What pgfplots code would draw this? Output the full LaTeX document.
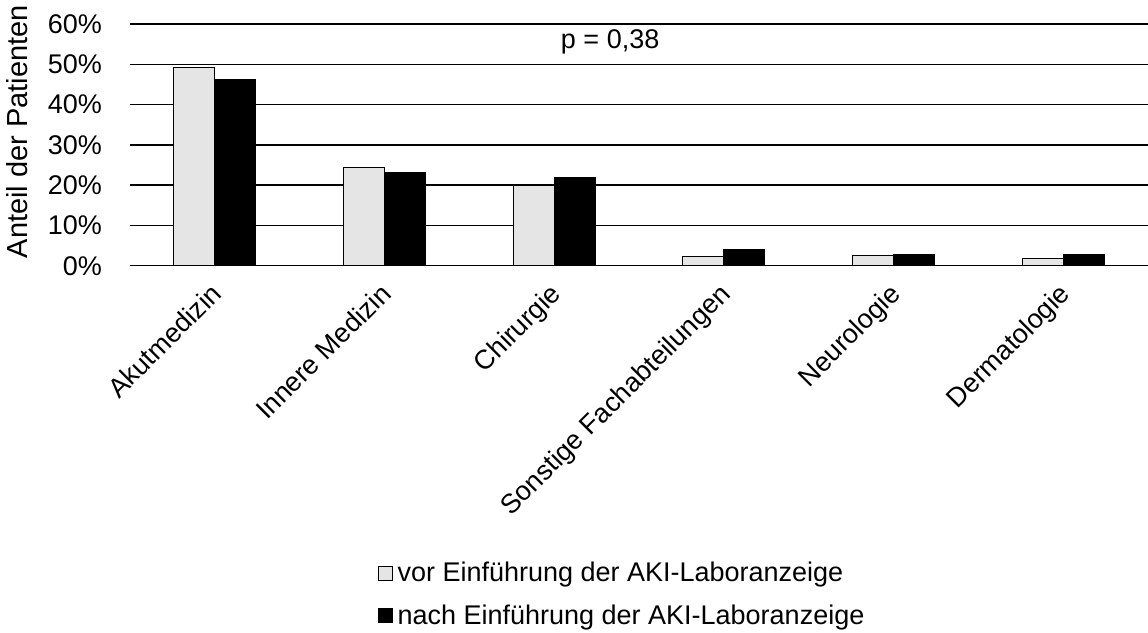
\documentclass[border=0pt]{standalone}
\usepackage{pgfplots}
\pgfplotsset{compat=1.18}
\usepackage{fontspec}
\setmainfont{Liberation Sans}
\definecolor{vorgray}{RGB}{229,229,229}
\newcommand{\chartfont}{\fontsize{13.5}{16}\selectfont}

\begin{document}
\begin{tikzpicture}
\begin{axis}[
  name=ax,
  scale only axis,
  width=509pt, height=120.85pt,
  xmin=-0.5, xmax=5.5,
  ymin=0, ymax=60,
  ybar=0pt,
  bar width=20.5pt,
  axis x line*=bottom,
  axis y line*=left,
  y axis line style={draw=none},
  x axis line style={line width=0.75pt},
  ytick={0,10,...,60},
  ymajorgrids,
  grid style={black, line width=0.75pt},
  major tick length=0pt,
  tick label style={font=\chartfont},
  xtick=data,
  xticklabels={Akutmedizin, Innere Medizin, Chirurgie, Sonstige Fachabteilungen, Neurologie, Dermatologie},
  x tick label style={rotate=45, anchor=north east, inner sep=1pt, yshift=-2.5pt, xshift=-6.5pt},
  yticklabel={\pgfmathprintnumber{\tick}\%},
  /pgf/number format/assume math mode=true,
  y tick label style={anchor=east, xshift=-10.5pt},
  ylabel={Anteil der Patienten},
  ylabel style={font=\fontsize{14.5}{17}\selectfont, at={(axis description cs:-0.111,0.555)}, anchor=center},
  legend style={at={(rel axis cs:0.4835,-1.20)}, anchor=north, draw=none,
    font=\chartfont, legend cell align=left,
    row sep=8pt, nodes={inner sep=1pt}},
  legend image code/.code={\draw[#1, draw=black, line width=0.5pt] (0pt,-3.5pt) rectangle (7pt,3.5pt);
    \path[draw=none, fill=none] (0pt,0pt) -- (8.5pt,0pt);},
  clip=false,
]
\addplot[fill=vorgray, draw=black, line width=0.5pt] coordinates {
  (0,49.1) (1,24.4) (2,20.0) (3,2.4) (4,2.5) (5,1.8)};
\addplot[fill=black, draw=black, line width=0.5pt] coordinates {
  (0,46.2) (1,23.1) (2,21.8) (3,4.1) (4,2.9) (5,2.9)};
\legend{vor Einführung der AKI-Laboranzeige, nach Einführung der AKI-Laboranzeige}
\node[font=\chartfont] at (axis cs:2.33,55.5) {p = 0,38};
\end{axis}
\pgfresetboundingbox
\path ([xshift=-65pt,yshift=-183.15pt]ax.south west) rectangle ([yshift=12pt]ax.north east);
\end{tikzpicture}
\end{document}
